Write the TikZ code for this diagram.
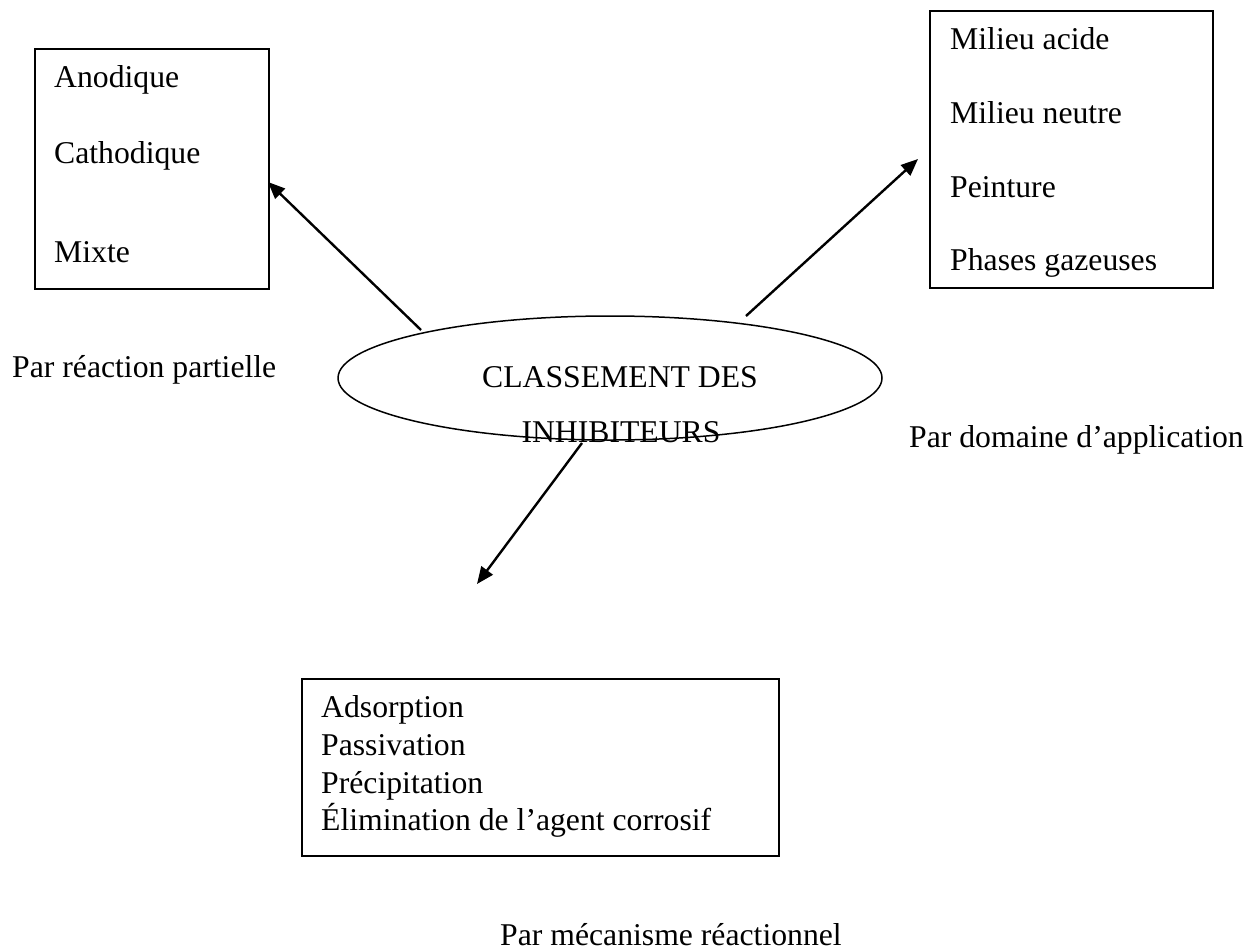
\documentclass[tikz,border=0pt]{standalone}
\usepackage{fontspec}
\setmainfont{Liberation Serif}
\usetikzlibrary{shapes.geometric,arrows.meta}
\begin{document}
\begin{tikzpicture}[x=1pt,y=-1pt,
  txt/.style={anchor=base west,inner sep=0pt,font=\fontsize{31.7}{37}\selectfont},
  ctxt/.style={anchor=base,inner sep=0pt,font=\fontsize{31.7}{37}\selectfont},
  boxn/.style={draw,line width=1.6pt,anchor=north west,inner sep=0pt},
  conn/.style={line width=2.4pt,-{Triangle[length=17pt,width=14pt]}}]
\useasboundingbox (0,0) rectangle (1255,950);
% boxes
\node[boxn,minimum width=234pt,minimum height=240pt] (lb) at (34,48) {};
\node[boxn,minimum width=283pt,minimum height=277pt] (rb) at (929,10) {};
\node[boxn,minimum width=477pt,minimum height=177pt] (bb) at (301,678) {};
% ellipse
\node[draw,ellipse,line width=1.5pt,minimum width=544pt,minimum height=124pt,inner sep=0pt] (ell) at (610,378) {};
\node[ctxt] (e1) at (620,387) {CLASSEMENT DES};
\node[ctxt] (e2) at (621,442) {INHIBITEURS};
% left box texts
\node[txt] (l1) at (54,88) {Anodique};
\node[txt] (l2) at (54,163) {Cathodique};
\node[txt] (l3) at (54,262) {Mixte};
% right box texts
\node[txt] (r1) at (950,50) {Milieu acide};
\node[txt] (r2) at (950,123) {Milieu neutre};
\node[txt] (r3) at (950,197) {Peinture};
\node[txt] (r4) at (950,270) {Phases gazeuses};
% bottom box texts
\node[txt] (b1) at (321,717) {Adsorption};
\node[txt] (b2) at (321,755) {Passivation};
\node[txt] (b3) at (321,793) {Précipitation};
\node[txt] (b4) at (321,830) {Élimination de l’agent corrosif};
% labels
\node[txt] (p1) at (12,377) {Par réaction partielle};
\node[txt] (p2) at (909,447) {Par domaine d’application};
\node[txt] (p3) at (500,945) {Par mécanisme réactionnel};
% connector ends
\coordinate (a1s) at (421,330);
\coordinate (a1e) at (268,182);
\coordinate (a2s) at (746,316);
\coordinate (a2e) at (918,159);
\coordinate (a3s) at (582,443);
\coordinate (a3e) at (477,584);
\draw[conn] (a1s) -- (a1e);
\draw[conn] (a2s) -- (a2e);
\draw[conn] (a3s) -- (a3e);
\end{tikzpicture}
\end{document}
